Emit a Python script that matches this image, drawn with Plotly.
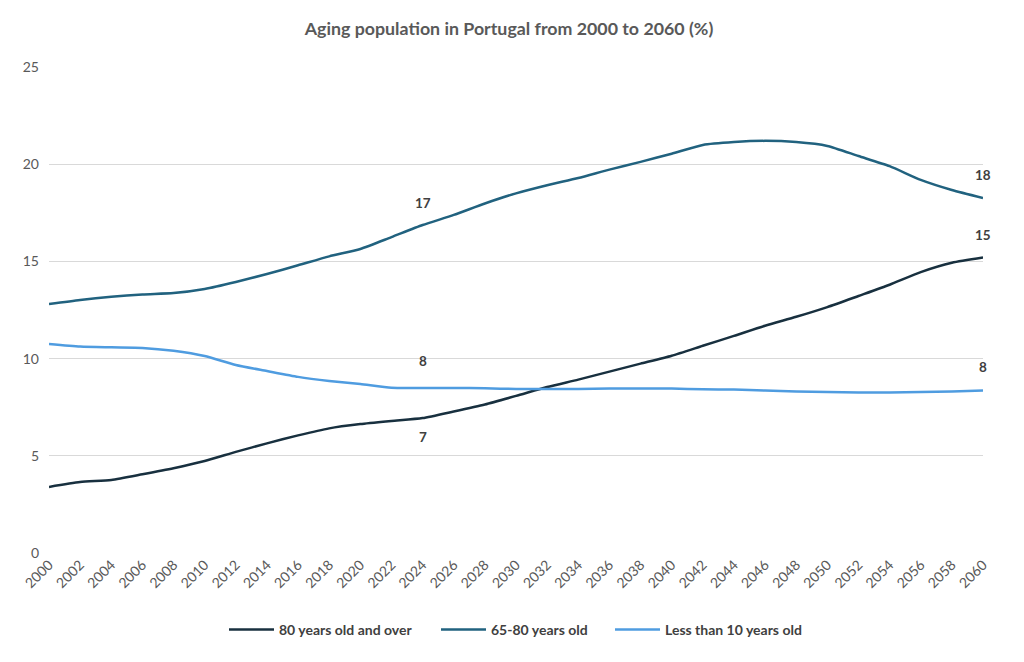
import plotly.graph_objects as go

years = list(range(2000, 2061, 2))
over80 = [3.40, 3.65, 3.76, 4.05, 4.36, 4.73, 5.20, 5.64, 6.05, 6.41, 6.63, 6.79,
          6.94, 7.28, 7.64, 8.08, 8.54, 8.92, 9.33, 9.74, 10.15, 10.66, 11.17, 11.69,
          12.15, 12.65, 13.22, 13.80, 14.45, 14.93, 15.20]
age65_80 = [12.81, 13.02, 13.18, 13.30, 13.37, 13.58, 13.94, 14.35, 14.80, 15.26, 15.64, 16.25,
            16.87, 17.39, 17.98, 18.50, 18.92, 19.29, 19.72, 20.12, 20.54, 20.99, 21.14, 21.20,
            21.14, 20.94, 20.42, 19.90, 19.19, 18.67, 18.26]
under10 = [10.75, 10.62, 10.58, 10.55, 10.40, 10.13, 9.67, 9.36, 9.06, 8.85, 8.69, 8.50,
           8.49, 8.49, 8.47, 8.44, 8.44, 8.44, 8.46, 8.46, 8.46, 8.42, 8.41, 8.36,
           8.31, 8.28, 8.26, 8.26, 8.28, 8.31, 8.36]

names = ["80 years old and over", "65-80 years old", "Less than 10 years old"]
colors = ["#18303f", "#21627f", "#4f9ce0"]
series = [over80, age65_80, under10]
legend_ids = ["legend", "legend2", "legend3"]

FONT = "Lato, Open Sans, sans-serif"

# page body has an 8px margin; layout below is in figure pixels
W, H = 1024, 662
L, T, PW, PH = 41, 59, 934, 486
R = W - L - PW
B = H - T - PH

fig = go.Figure()
for n, c, s, lg in zip(names, colors, series, legend_ids):
    fig.add_trace(go.Scatter(x=years, y=s, mode="lines", name=n, legend=lg,
                             line=dict(color=c, width=2.5, shape="spline", smoothing=0.6)))

label_years = [2024, 2060]
shifts = {0: [-19, 23], 1: [22, 23], 2: [27, 23]}
for i, s in enumerate(series):
    for j, yr in enumerate(label_years):
        v = s[years.index(yr)]
        fig.add_annotation(x=yr, y=v, text="<b>%d</b>" % round(v), showarrow=False,
                           yshift=shifts[i][j], xref="x", yref="y",
                           font=dict(family=FONT, size=13.5, color="#404040"))

def px_x(p):
    return (p - 8 - L) / PW

legend_y = (T + PH - (630 - 8)) / PH
legend_common = dict(orientation="h", yanchor="middle", y=legend_y, xanchor="left",
                     font=dict(size=14, color="#404040", weight="bold"), itemwidth=45,
                     bgcolor="rgba(0,0,0,0)")
legend_px = [224, 436, 610]

fig.update_layout(
    width=W, height=H,
    paper_bgcolor="white", plot_bgcolor="white",
    margin=dict(l=L, r=R, t=T, b=B, autoexpand=False),
    title=dict(text="<b>Aging population in Portugal from 2000 to 2060 (%)</b>",
               x=(509 - 8) / W, xanchor="center", y=1 - (29 - 8) / H, yanchor="middle",
               font=dict(family=FONT, size=17.8, color="#595959")),
    font=dict(family=FONT, color="#595959"),
    showlegend=True,
)
for lg, p in zip(legend_ids, legend_px):
    fig.update_layout({lg: dict(x=px_x(p), **legend_common)})

fig.update_xaxes(range=[2000, 2060], tickmode="array", tickvals=years,
                 ticktext=[str(y) for y in years], tickangle=-45, automargin=False,
                 showgrid=False, showline=False, zeroline=False,
                 tickfont=dict(size=14, color="#595959"))
fig.update_yaxes(range=[0, 25], tickvals=[0, 5, 10, 15, 20, 25], automargin=False,
                 showgrid=True, gridcolor="#d9d9d9", gridwidth=1, zeroline=False,
                 showline=False, ticks="", ticklen=0, ticklabelstandoff=9,
                 tickfont=dict(size=14, color="#595959"))

fig.write_html("out.html")
